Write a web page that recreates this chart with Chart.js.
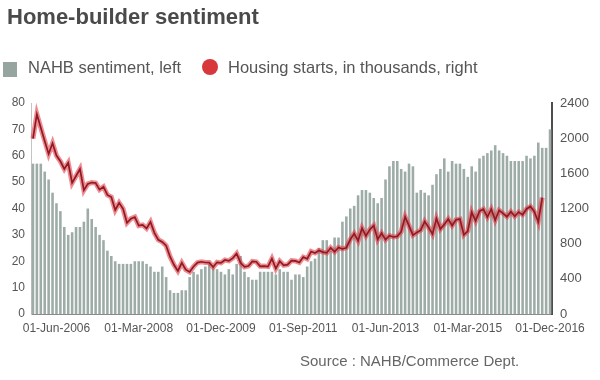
<!DOCTYPE html>
<html>
<head>
<meta charset="utf-8">
<script src="https://cdn.jsdelivr.net/npm/chart.js@4.4.0/dist/chart.umd.min.js"></script>
<style>
  html, body { margin: 0; padding: 0; background: #ffffff; }
  body { width: 600px; height: 380px; overflow: hidden; font-family: "Liberation Sans", Arial, sans-serif; }
  #wrap { position: relative; width: 600px; height: 380px; }
  #chart { position: absolute; left: 0; top: 0; }
  .title { position: absolute; left: 7px; top: 6px; font-size: 22px; line-height: 22px; font-weight: bold; color: #4a4a4a; white-space: nowrap; }
  .lg-box { position: absolute; left: 3px; top: 62px; width: 14px; height: 15px; background: #97a5a1; }
  .lg-dot { position: absolute; left: 202px; top: 59px; width: 16px; height: 16px; border-radius: 50%; background: #d6383c; }
  .lg-text { position: absolute; top: 58px; font-size: 16.5px; line-height: 18px; color: #555555; white-space: nowrap; }
  .source { position: absolute; left: 300px; top: 352px; font-size: 15px; line-height: 17px; color: #666666; white-space: nowrap; }
</style>
</head>
<body>
<div id="wrap">
  <canvas id="chart" width="600" height="380"></canvas>
  <div class="title">Home-builder sentiment</div>
  <div class="lg-box"></div>
  <div class="lg-text" style="left:28px;">NAHB sentiment, left</div>
  <div class="lg-dot"></div>
  <div class="lg-text" style="left:228px;">Housing starts, in thousands, right</div>
  <div class="source">Source : NAHB/Commerce Dept.</div>
</div>
<script>
// ---- categories: monthly, Dec 2005 .. Dec 2016 ----
const monthNames = ['Jan','Feb','Mar','Apr','May','Jun','Jul','Aug','Sep','Oct','Nov','Dec'];
const firstYear = 2005, firstMonth = 11, monthCount = 133;
const categories = [];
for (let k = 0; k < monthCount; k++) {
  const m = (firstMonth + k) % 12;
  const y = firstYear + Math.floor((firstMonth + k) / 12);
  categories.push('01-' + monthNames[m] + '-' + y);
}

// ---- x-axis tick labels shown ----
const tickLabels = ['01-Jun-2006','01-Mar-2008','01-Dec-2009','01-Sep-2011','01-Jun-2013','01-Mar-2015','01-Dec-2016'];

// ---- NAHB sentiment (left axis) ----
const nahb = [
  57,                                           // Dec 2005
  57, 57, 54, 51, 46, 42, 39, 33, 30, 31, 33, 33, // 2006
  35, 40, 36, 33, 30, 28, 24, 22, 20, 19, 19, 19, // 2007
  19, 20, 20, 20, 19, 18, 16, 16, 18, 14,  9,  8, // 2008
   8,  9,  9, 14, 16, 15, 17, 18, 19, 18, 17, 16, // 2009
  15, 17, 15, 19, 22, 16, 14, 13, 13, 16, 16, 16, // 2010
  16, 15, 17, 16, 16, 13, 15, 15, 14, 18, 20, 21, // 2011
  25, 28, 28, 24, 29, 29, 35, 37, 40, 41, 45, 47, // 2012
  47, 46, 44, 42, 44, 51, 56, 58, 58, 55, 54, 57, // 2013
  56, 46, 47, 46, 45, 49, 53, 55, 59, 54, 58, 57, // 2014
  57, 55, 52, 56, 54, 59, 60, 61, 62, 64, 62, 61, // 2015
  60, 58, 58, 58, 58, 60, 59, 60, 65, 63, 63, 70  // 2016
];

// ---- Housing starts, thousands (right axis) ----
const starts = [
  1994,                                                              // Dec 2005
  2273, 2119, 1969, 1821, 1942, 1802, 1737, 1650, 1720, 1491, 1570, 1649, // 2006
  1409, 1480, 1495, 1490, 1415, 1448, 1354, 1330, 1183, 1264, 1197, 1037, // 2007
  1084, 1103, 1005, 1013,  973, 1046,  923,  844,  820,  777,  652,  560, // 2008
   490,  582,  505,  478,  540,  585,  594,  586,  585,  534,  588,  581, // 2009
   614,  604,  636,  687,  583,  536,  546,  599,  594,  543,  545,  539, // 2010
   630,  517,  600,  554,  561,  608,  604,  586,  648,  627,  711,  694, // 2011
   723,  704,  695,  753,  708,  757,  740,  754,  847,  915,  833,  976, // 2012
   888,  962, 1005,  847,  919,  846,  891,  876,  883,  936, 1105, 1003, // 2013
   897,  928,  953, 1052,  985,  909, 1085,  965, 1019, 1080, 1006, 1072, // 2014
  1080,  900,  944, 1157, 1059, 1169, 1192, 1103, 1192, 1069, 1180, 1145, // 2015
  1107, 1164, 1111, 1160, 1128, 1195, 1223, 1164, 1047, 1323, null, null  // 2016
];

// ---- axis ranges ----
const leftMax = 80, leftStep = 10;
const rightMax = 2400, rightStep = 400;

const fam = '"Liberation Sans", Arial, sans-serif';

new Chart(document.getElementById('chart'), {
  type: 'bar',
  data: {
    labels: categories,
    datasets: [
      {
        type: 'line', label: 'Housing starts, in thousands, right', data: starts, yAxisID: 'y1',
        borderColor: '#8c1b24', borderWidth: 1.7, pointRadius: 0, tension: 0, order: 0, fill: false
      },
      {
        type: 'line', label: 'glow', data: starts, yAxisID: 'y1',
        borderColor: 'rgba(228,62,72,0.6)', borderWidth: 5, pointRadius: 0, tension: 0, order: 1, fill: false
      },
      {
        type: 'bar', label: 'NAHB sentiment, left', data: nahb, yAxisID: 'y',
        backgroundColor: '#9eaca8', barPercentage: 0.66, categoryPercentage: 1, order: 2
      }
    ]
  },
  options: {
    responsive: false,
    animation: false,
    devicePixelRatio: 1,
    layout: { padding: { top: 103, bottom: 40, left: 0, right: 0 } },
    plugins: { legend: { display: false }, tooltip: { enabled: false } },
    scales: {
      x: {
        offset: true,
        grid: { display: false, drawTicks: false },
        border: { display: true, color: '#8c8c8c', width: 1 },
        ticks: {
          autoSkip: false, maxRotation: 0, minRotation: 0, padding: 7,
          color: '#555555', font: { size: 12, family: fam },
          callback: (v, i) => tickLabels.includes(categories[i]) ? categories[i] : ''
        },
        afterFit: s => { s.height = 26; }
      },
      y: {
        position: 'left', min: 0, max: leftMax,
        grid: { display: false, drawTicks: false },
        border: { display: true, color: '#c4c4c4', width: 1 },
        ticks: { stepSize: leftStep, color: '#555555', font: { size: 12, family: fam }, padding: 6,
                 callback: v => String(v) },
        afterFit: s => { s.width = 31; }
      },
      y1: {
        position: 'right', min: 0, max: rightMax,
        grid: { display: false, drawTicks: false },
        border: { display: true, color: '#4d4d4d', width: 2 },
        ticks: { stepSize: rightStep, color: '#555555', font: { size: 13, family: fam }, padding: 8,
                 callback: v => String(v) },
        afterFit: s => { s.width = 48; }
      }
    }
  }
});
</script>
</body>
</html>
